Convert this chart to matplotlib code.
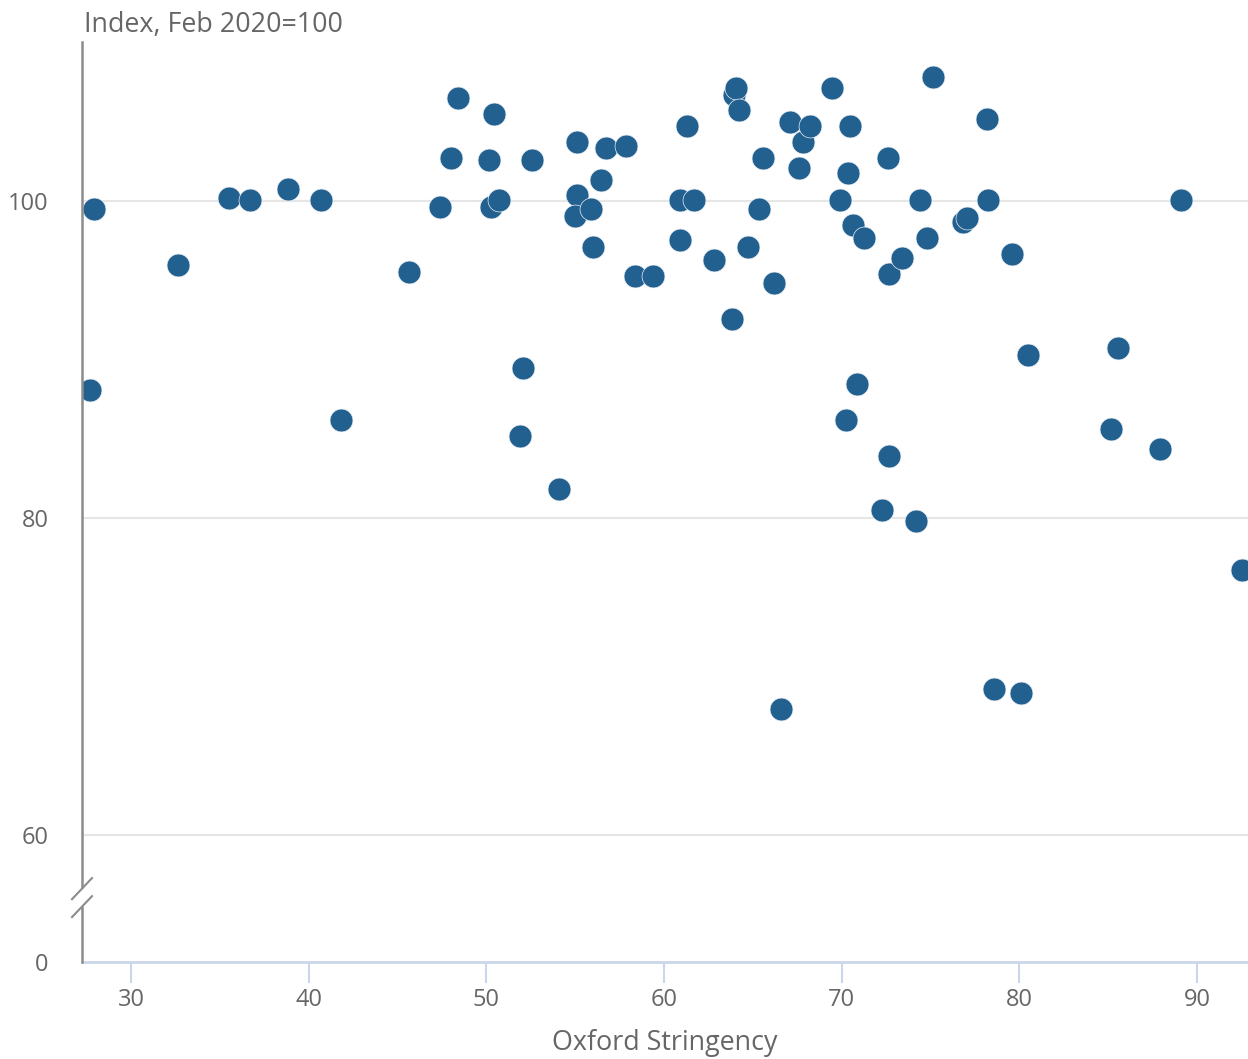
import matplotlib
matplotlib.use("Agg")
import matplotlib.pyplot as plt

plt.rcParams['font.family'] = ['Open Sans', 'DejaVu Sans']

# Oxford stringency vs index (Feb 2020 = 100)
stringency = [27.92, 27.69, 32.64, 35.51, 36.70, 38.84, 40.69, 41.82, 45.64, 47.39,
              48.01, 48.40, 50.15, 50.26, 50.43, 50.71, 52.06, 51.89, 52.57, 54.09,
              55.10, 55.10, 54.99, 55.89, 56.00, 56.45, 56.73, 57.86, 58.36, 59.38,
              60.90, 60.90, 61.29, 61.68, 62.81, 63.82, 63.93, 64.05, 64.22, 64.72,
              65.57, 65.34, 66.18, 66.58, 67.09, 67.59, 67.82, 68.21, 69.45, 69.90,
              70.35, 70.46, 70.63, 70.24, 70.86, 71.25, 72.26, 72.66, 72.66, 72.60,
              73.39, 74.18, 74.40, 74.79, 75.13, 76.82, 77.05, 78.17, 78.23, 78.56,
              79.58, 80.08, 80.48, 85.15, 85.54, 87.91, 89.09, 92.52]
index_val = [99.50, 88.08, 95.96, 100.19, 100.06, 100.76, 100.06, 86.18, 95.52, 99.62,
             102.71, 106.44, 102.59, 99.62, 105.43, 100.06, 89.46, 85.17, 102.59, 81.83,
             103.72, 100.38, 99.05, 99.50, 97.10, 101.32, 103.34, 103.47, 95.27, 95.27,
             100.06, 97.54, 104.73, 100.06, 96.28, 92.56, 106.69, 107.13, 105.74, 97.10,
             102.71, 99.50, 94.83, 67.95, 104.98, 102.08, 103.72, 104.73, 107.13, 100.06,
             101.77, 104.73, 98.49, 86.18, 88.45, 97.67, 80.50, 83.91, 95.39, 102.71,
             96.40, 79.81, 100.06, 97.67, 107.82, 98.68, 98.93, 105.17, 100.06, 69.21,
             96.66, 68.96, 90.28, 85.62, 90.73, 84.35, 100.06, 76.72]

x_ticks = [30, 40, 50, 60, 70, 80, 90]
y_ticks = [52, 60, 80, 100]          # 52 stands for the broken-axis zero
y_tick_labels = ["0", "60", "80", "100"]

text_col = "#666666"
dot_col = "#22608f"

fig = plt.figure(figsize=(12.48, 10.59), dpi=100)
ax = fig.add_axes([82/1248, 97/1059, 1166/1248, 920/1059])

ax.scatter(stringency, index_val, s=272, color=dot_col, edgecolor="#e8eef4",
           linewidth=0.5, zorder=3, clip_on=True)

ax.set_xlim(27.24, 92.86)
ax.set_ylim(52, 110)

ax.set_xticks(x_ticks)
ax.set_xticklabels([str(t) for t in x_ticks])
ax.set_yticks(y_ticks)
ax.set_yticklabels(y_tick_labels)

ax.tick_params(axis="x", length=15, width=1.5, color="#ccd6eb",
               labelsize=17, labelcolor=text_col, pad=4)
ax.tick_params(axis="y", length=0, labelsize=17, labelcolor=text_col, pad=24)

for g in [60, 80, 100]:
    ax.axhline(g, color="#e6e6e6", linewidth=1.5, zorder=1)

for s in ["top", "right", "left"]:
    ax.spines[s].set_visible(False)
ax.spines["bottom"].set_color("#ccd6eb")
ax.spines["bottom"].set_linewidth(2)

# left axis line with a break
tr = ax.get_yaxis_transform()
ax.plot([0, 0], [56.72, 110], color="#8c8c8c", linewidth=1.8, transform=tr,
        clip_on=False, zorder=4)
ax.plot([0, 0], [52, 55.46], color="#8c8c8c", linewidth=1.8, transform=tr,
        clip_on=False, zorder=4)
dx = 10/1166
ax.plot([-dx, dx], [55.96, 57.29], color="#8c8c8c", linewidth=1.5, transform=tr,
        clip_on=False, zorder=4)
ax.plot([-dx, dx], [54.83, 56.15], color="#8c8c8c", linewidth=1.5, transform=tr,
        clip_on=False, zorder=4)

ax.set_xlabel("Oxford Stringency", fontsize=19.4, color=text_col)
ax.xaxis.set_label_coords(0.5, (962 - 1029) / 920)

fig.text(84/1248, 1 - 25/1059, "Index, Feb 2020=100", fontsize=19.4,
         color=text_col, ha="left", va="center")

fig.savefig("out.png", dpi=100)
